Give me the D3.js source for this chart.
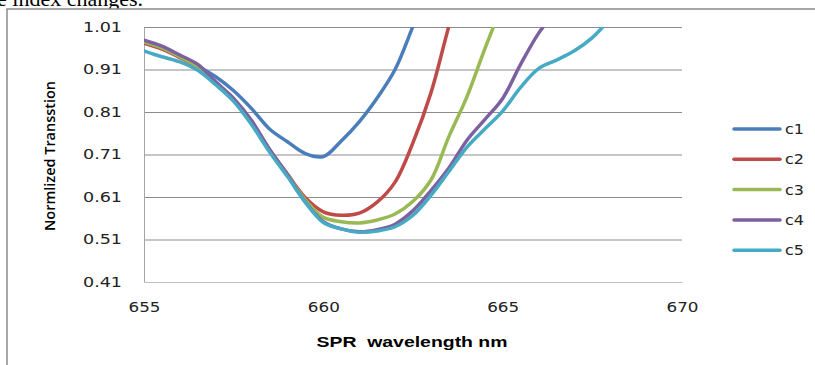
<!DOCTYPE html>
<html>
<head>
<meta charset="utf-8">
<script src="https://cdn.jsdelivr.net/npm/d3@7"></script>
<style>
  body{margin:0;background:#fff;overflow:hidden;}
  svg{display:block;}
</style>
</head>
<body>
<div id="grafico"></div>
<script>
// valores (comprimento de onda SPR, nm)
const wavelength = [655,655.5,656,656.5,657,657.5,658,658.5,659,659.5,660,660.5,661,661.5,662,662.5,663,663.5,664,664.5,665,665.5,666,666.5,667,667.5,668];

const c1 = [.977,.962,.942,.918,.893,.860,.818,.770,.740,.712,.705,.742,.787,.843,.910,1.012,1.12,null,null,null,null,null,null,null,null,null,null];
const c2 = [.972,.958,.938,.914,.877,.838,.785,.722,.664,.608,.575,.567,.572,.598,.645,.738,.855,1.012,1.16,null,null,null,null,null,null,null,null];
const c3 = [.975,.961,.940,.916,.877,.838,.785,.720,.662,.603,.562,.552,.549,.556,.570,.600,.650,.752,.845,.958,1.064,null,null,null,null,null,null];
const c4 = [.979,.965,.944,.922,.881,.842,.790,.722,.662,.598,.552,.535,.528,.533,.546,.578,.625,.678,.743,.792,.842,.922,.995,1.05,null,null,null];
const c5 = [.954,.940,.928,.908,.874,.835,.780,.716,.658,.597,.550,.535,.527,.530,.540,.567,.614,.670,.727,.770,.812,.868,.912,.932,.954,.985,1.03];

const seriesNames = ['c1','c2','c3','c4','c5'];
const seriesValues = [c1,c2,c3,c4,c5];
const cores = ['#4a7ebb','#be4b48','#98b954','#7d60a0','#46aac5'];

const xTicks = [655,660,665,670];
const yTicks = [0.41,0.51,0.61,0.71,0.81,0.91,1.01];

const W=815, H=365;
const esq=144, dir=682, topo=27, base=282;

const svg = d3.select('#grafico').append('svg')
  .attr('width',W).attr('height',H);

// pedaço do texto do documento que aparece cortado em cima
svg.append('text')
  .attr('x',-3).attr('y',6)
  .attr('font-family','Liberation Serif, serif')
  .attr('font-size','22px')
  .attr('fill','#000')
  .text('e index changes.');

// moldura do grafico
svg.append('rect')
  .attr('x',7).attr('y',9)
  .attr('width',W+20).attr('height',H+20)
  .attr('fill','#fff')
  .attr('stroke','#8a8a8a').attr('stroke-width',1.5);

const x = d3.scaleLinear().domain([655,670]).range([esq,dir]);
const y = d3.scaleLinear().domain([0.41,1.01]).range([base,topo]);

// linhas de grade
svg.append('g')
  .attr('transform','translate('+esq+',0)')
  .call(d3.axisLeft(y).tickValues(yTicks.slice(1)).tickSize(-(dir-esq)).tickFormat(''))
  .call(g => g.select('.domain').remove())
  .call(g => g.selectAll('line').attr('stroke','#8c8c8c').attr('stroke-width',1));

// eixo y
const eixoY = svg.append('g')
  .attr('transform','translate('+esq+',0)')
  .call(d3.axisLeft(y).tickValues(yTicks).tickSize(0).tickPadding(22).tickFormat(d3.format('.2f')));
eixoY.select('.domain').attr('stroke','#a6a6a6');
eixoY.selectAll('text')
  .attr('font-family','DejaVu Sans, Verdana, sans-serif')
  .attr('font-size','14px').attr('fill','#222')
  .attr('textLength',39).attr('lengthAdjust','spacingAndGlyphs');

// eixo x
const eixoX = svg.append('g')
  .attr('transform','translate(0,'+base+')')
  .call(d3.axisBottom(x).tickValues(xTicks).tickSize(0).tickPadding(20));
eixoX.select('.domain').attr('stroke','#c0c0c0');
eixoX.selectAll('text')
  .attr('font-family','DejaVu Sans, Verdana, sans-serif')
  .attr('font-size','14px').attr('fill','#222')
  .attr('textLength',32).attr('lengthAdjust','spacingAndGlyphs');

// titulos
svg.append('text')
  .attr('transform','translate(49,156) rotate(-90)')
  .attr('text-anchor','middle').attr('dominant-baseline','central')
  .attr('font-family','Open Sans, Liberation Sans, sans-serif')
  .attr('font-size','14px').attr('font-weight',600).attr('fill','#000')
  .attr('textLength',150).attr('lengthAdjust','spacingAndGlyphs')
  .text('Normlized Transstion');

svg.append('text')
  .attr('x',412).attr('y',342)
  .attr('text-anchor','middle').attr('dominant-baseline','central')
  .attr('font-family','Liberation Sans, Arial, sans-serif')
  .attr('font-size','14px').attr('font-weight','bold').attr('fill','#000')
  .attr('textLength',191).attr('lengthAdjust','spacingAndGlyphs')
  .style('white-space','pre')
  .text('SPR  wavelength nm');

// curvas
svg.append('clipPath').attr('id','area')
  .append('rect').attr('x',esq).attr('y',topo).attr('width',dir-esq).attr('height',base-topo);

const linha = d3.line()
  .defined(d => d[1]!=null)
  .x(d => x(d[0]))
  .y(d => y(d[1]))
  .curve(d3.curveCatmullRom.alpha(0.5));

const curvas = svg.append('g').attr('clip-path','url(#area)');
seriesValues.forEach((vals,i) => {
  const pts = wavelength.map((w,k) => [w, vals[k]]);
  curvas.append('path')
    .attr('d', linha(pts))
    .attr('fill','none')
    .attr('stroke',cores[i])
    .attr('stroke-width',3.5)
    .attr('stroke-linejoin','round').attr('stroke-linecap','round');
});

// legenda
const leg = svg.append('g');
seriesNames.forEach((nome,i) => {
  const ly = 129 + i*30.3;
  leg.append('line')
    .attr('x1',734).attr('x2',780).attr('y1',ly).attr('y2',ly)
    .attr('stroke',cores[i]).attr('stroke-width',3.5).attr('stroke-linecap','round');
  leg.append('text')
    .attr('x',785).attr('y',ly)
    .attr('dominant-baseline','central')
    .attr('font-family','DejaVu Sans, Verdana, sans-serif')
    .attr('font-size','14px').attr('fill','#222')
    .attr('textLength',19).attr('lengthAdjust','spacingAndGlyphs')
    .text(nome);
});
</script>
</body>
</html>
